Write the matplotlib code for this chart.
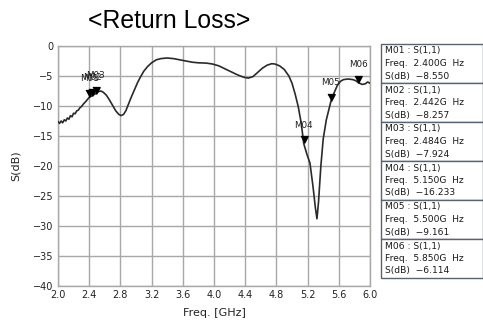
import matplotlib
matplotlib.use("Agg")
import matplotlib.pyplot as plt
from matplotlib.patches import Rectangle

# Measured S(1,1) return loss sweep
freq_ghz = [2.00, 2.02, 2.04, 2.06, 2.08, 2.10, 2.12, 2.14, 2.16, 2.18, 2.20, 2.22,
            2.24, 2.26, 2.28, 2.30, 2.33, 2.36, 2.40, 2.442, 2.484, 2.52, 2.55, 2.58,
            2.62, 2.66, 2.70, 2.74, 2.78, 2.81, 2.84, 2.87, 2.90, 2.94, 2.98, 3.02,
            3.06, 3.10, 3.15, 3.20, 3.26, 3.32, 3.40, 3.48, 3.56, 3.64, 3.72, 3.80,
            3.90, 3.98, 4.06, 4.14, 4.22, 4.30, 4.38, 4.44, 4.50, 4.56, 4.62, 4.68,
            4.74, 4.78, 4.84, 4.90, 4.96, 5.00, 5.04, 5.08, 5.12, 5.15, 5.19, 5.23,
            5.27, 5.30, 5.32, 5.34, 5.37, 5.40, 5.44, 5.50, 5.54, 5.58, 5.62, 5.66,
            5.72, 5.78, 5.82, 5.85, 5.90, 5.94, 5.97, 6.00]
s11_db = [-12.6, -12.9, -12.5, -12.8, -12.3, -12.5, -12.0, -12.2, -11.6, -11.8, -11.2, -11.3,
          -10.8, -10.7, -10.3, -10.1, -9.6, -9.2, -8.55, -8.257, -7.924, -7.6, -7.5, -7.7,
          -8.2, -9.0, -9.9, -10.8, -11.4, -11.6, -11.4, -10.8, -9.8, -8.5, -7.3, -6.1,
          -5.1, -4.2, -3.4, -2.8, -2.3, -2.1, -2.0, -2.1, -2.3, -2.5, -2.7, -2.8,
          -2.85, -3.0, -3.3, -3.8, -4.3, -4.8, -5.2, -5.35, -5.1, -4.4, -3.7, -3.2,
          -2.95, -3.0, -3.3, -3.9, -5.0, -6.2, -8.0, -10.1, -13.0, -16.233, -18.0, -19.5,
          -23.5, -27.0, -28.8, -26.0, -20.0, -15.5, -12.3, -9.161, -7.8, -6.6, -5.9, -5.6,
          -5.5, -5.6, -5.8, -6.114, -6.4, -6.3, -6.0, -6.2]

# Marker readouts
marker_names = ["M01", "M02", "M03", "M04", "M05", "M06"]
marker_freq = [2.400, 2.442, 2.484, 5.150, 5.500, 5.850]
marker_db = [-8.550, -8.257, -7.924, -16.233, -9.161, -6.114]

x_ticks = [2.0, 2.4, 2.8, 3.2, 3.6, 4.0, 4.4, 4.8, 5.2, 5.6, 6.0]
y_ticks = [0, -5, -10, -15, -20, -25, -30, -35, -40]

W, H = 483, 322
fig = plt.figure(figsize=(W / 100, H / 100), dpi=100)
fig.patch.set_facecolor("white")

ax = fig.add_axes([58 / W, 1 - 286 / H, 312 / W, 240 / H])
ax.set_xlim(2.0, 6.0)
ax.set_ylim(-40, 0)
ax.set_xticks(x_ticks)
ax.set_yticks(y_ticks)
ax.set_xticklabels([f"{v:.1f}" for v in x_ticks])
ax.set_yticklabels(["0" if v == 0 else f"\u2212{abs(v)}" for v in y_ticks])
ax.grid(True, color="#a8a8a8", linewidth=1.0)
ax.set_axisbelow(True)
for sp in ax.spines.values():
    sp.set_color("#a8a8a8")
    sp.set_linewidth(1.0)
ax.tick_params(length=0, labelsize=7, pad=3, colors="#222222")

ax.plot(freq_ghz, s11_db, color="#2a2a2a", linewidth=1.2, zorder=3)

# Downward triangle whose tip sits on the marker point
tri = [(-1, 1.9), (1, 1.9), (0, 0)]
ax.plot(marker_freq, marker_db, linestyle="none", marker=tri, markersize=10,
        color="black", zorder=4)
for name, f, d in zip(marker_names, marker_freq, marker_db):
    ax.annotate(name, (f, d), xytext=(0, 10), textcoords="offset points",
                ha="center", va="bottom", fontsize=6.3, color="#202020", zorder=5)

ax.set_xlabel("Freq. [GHz]", fontsize=8, labelpad=6, color="#222222")
ax.set_ylabel("S(dB)", fontsize=8, labelpad=9, color="#222222")

fig.text(88 / W, 1 - 21 / H, "<Return Loss>", fontsize=17.8, va="center", ha="left",
         family="Liberation Sans", color="black")

# Marker readout table
box_x0, box_x1 = 381, 483
box_top, box_h = 44, 39
for i, (name, f, d) in enumerate(zip(marker_names, marker_freq, marker_db)):
    y0 = box_top + i * box_h
    fig.add_artist(Rectangle((box_x0 / W, 1 - (y0 + box_h) / H), (box_x1 - box_x0) / W,
                             box_h / H, transform=fig.transFigure, facecolor="white",
                             edgecolor="#5a6470", linewidth=1.0))
    lines = [f"{name} : S(1,1)", f"Freq.  {f:.3f}G  Hz", f"S(dB)  \u2212{abs(d):.3f}"]
    for j, t in enumerate(lines):
        fig.text((box_x0 + 4) / W, 1 - (y0 + 7 + j * 12.5) / H, t, fontsize=6.6,
                 va="center", ha="left", color="#1a1a1a")

fig.savefig("out.png", dpi=100)
